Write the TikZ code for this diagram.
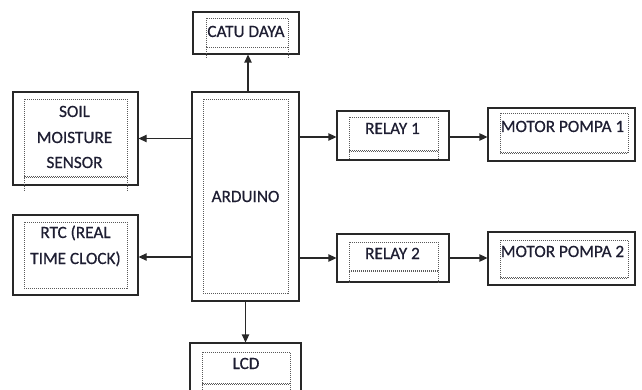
\documentclass[tikz,border=0pt]{standalone}
\usepackage{fontspec}
\setmainfont{Carlito}
\newfontface\lblfont{Carlito}[FakeBold=0.6]
\usetikzlibrary{arrows.meta}
\definecolor{edge}{RGB}{40,40,40}
\definecolor{ink}{RGB}{30,30,50}
\definecolor{dotc}{RGB}{90,90,90}
\tikzset{
  box/.style={draw=edge, line width=1.3pt, fill=none, inner sep=0pt},
  dotbox/.style={draw=dotc, line width=0.9pt, dash pattern=on 1pt off 1pt},
  arr/.style={draw=edge, line width=1.3pt, -{Triangle[length=8pt,width=7.5pt]}},
  lbl/.style={text=ink, inner sep=0pt, anchor=base, font=\lblfont\fontsize{17.2}{25.5}\selectfont}
}
\begin{document}
\begin{tikzpicture}[x=1pt,y=-1pt]
\useasboundingbox (0,0) rectangle (642,390);
% outer boxes
\node[box, minimum width=106pt, minimum height=42pt] (catu) at (246,33) {};
\node[box, minimum width=125pt, minimum height=93pt] (soil) at (75.5,138.5) {};
\node[box, minimum width=125pt, minimum height=80pt] (rtc) at (75.5,255) {};
\node[box, minimum width=107pt, minimum height=209pt] (ard) at (245.5,196.5) {};
\node[box, minimum width=112pt, minimum height=49pt] (relay1) at (393,135.5) {};
\node[box, minimum width=147pt, minimum height=53pt] (motor1) at (561.5,134.5) {};
\node[box, minimum width=112pt, minimum height=48pt] (relay2) at (393,258) {};
\node[box, minimum width=147pt, minimum height=53pt] (motor2) at (561.5,258.5) {};
\node[box, minimum width=111pt, minimum height=54pt] (lcd) at (245.5,370) {};
% inner dotted boxes
\draw[dotbox] (206,18) rectangle (288,47);
\draw[dotbox] (206,47) -- (206,58) (288,47) -- (288,58);
\draw[dotbox] (24,99) rectangle (127,176);
\draw[dotbox] (24,177.5) -- (127,177.5) (24,176) -- (24,192) (127,176) -- (127,192);
\draw[dotbox] (24,222) rectangle (127,288);
\draw[dotbox] (203,99) rectangle (288,293);
\draw[dotbox] (349,117) rectangle (438,150);
\draw[dotbox] (349,151.5) -- (438,151.5) (349,150) -- (349,160) (438,150) -- (438,160);
\draw[dotbox] (500,113) rectangle (628,152);
\draw[dotbox] (500,153.5) -- (628,153.5);
\draw[dotbox] (349,242) rectangle (438,270);
\draw[dotbox] (349,271.5) -- (438,271.5) (349,270) -- (349,283) (438,270) -- (438,283);
\draw[dotbox] (500,240) rectangle (628,277);
\draw[dotbox] (500,278.5) -- (628,278.5);
\draw[dotbox] (202,352) rectangle (290,383);
\draw[dotbox] (202,384.5) -- (290,384.5) (202,383) -- (202,392) (290,383) -- (290,392);
% labels
\node[lbl] (tcatu) at (246,37) {CATU DAYA};
\node[lbl] (tsoil1) at (74.5,117) {SOIL};
\node[lbl] (tsoil2) at (74.5,143) {MOISTURE};
\node[lbl] (tsoil3) at (74.5,168) {SENSOR};
\node[lbl] (trtc1) at (75.5,238) {RTC (REAL};
\node[lbl] (trtc2) at (75.5,264) {TIME CLOCK)};
\node[lbl] (tard) at (245.5,202) {ARDUINO};
\node[lbl] (trel1) at (392.5,134) {RELAY 1};
\node[lbl] (tmot1) at (562.5,132) {MOTOR POMPA 1};
\node[lbl] (trel2) at (392.5,259) {RELAY 2};
\node[lbl] (tmot2) at (562.5,257) {MOTOR POMPA 2};
\node[lbl] (tlcd) at (246,369) {LCD};
% connectors
\draw[arr] ([xshift=2.5pt]ard.north) -- ([xshift=2.5pt]ard.north |- catu.south);
\draw[arr] (ard.west |- soil.east) -- (soil.east);
\draw[arr] (ard.west |- 0,257) -- (rtc.east |- 0,257);
\draw[arr] (ard.east |- 0,137) -- (relay1.west |- 0,137);
\draw[arr] (relay1.east |- 0,137) -- (motor1.west |- 0,137);
\draw[arr] (ard.east |- relay2.west) -- (relay2.west);
\draw[arr] (relay2.east) -- (relay2.east -| motor2.west);
\draw[arr] (ard.south) -- (ard.south |- lcd.north);
\end{tikzpicture}
\end{document}
